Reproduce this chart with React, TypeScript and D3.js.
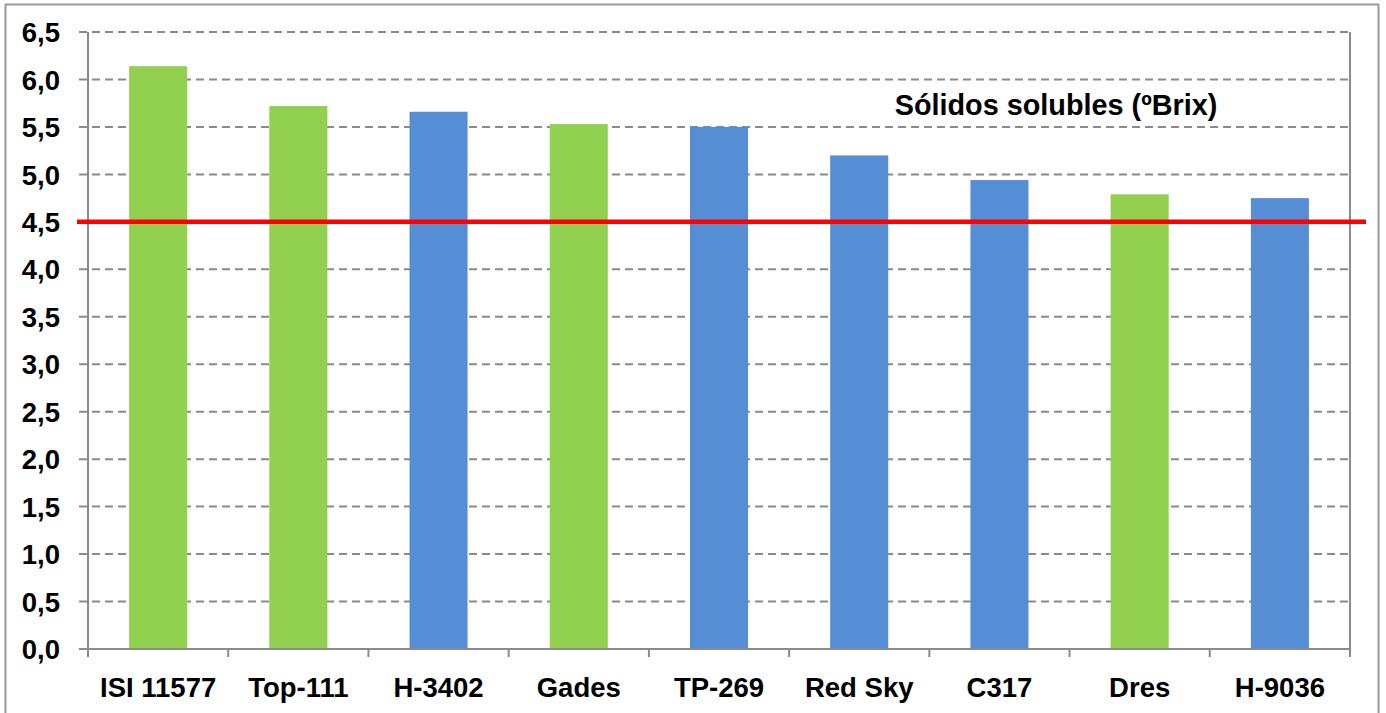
import React from "react";
import * as d3 from "d3";

const categories = ["ISI 11577", "Top-111", "H-3402", "Gades", "TP-269", "Red Sky", "C317", "Dres", "H-9036"];
const values = [6.14, 5.72, 5.66, 5.53, 5.5, 5.2, 4.94, 4.79, 4.75];
const groups = ["g", "g", "b", "g", "b", "b", "b", "g", "b"];
const yTicks = [0, 0.5, 1, 1.5, 2, 2.5, 3, 3.5, 4, 4.5, 5, 5.5, 6, 6.5];
const threshold = 4.5;
const title = "Sólidos solubles (ºBrix)";

const W = 1386;
const H = 713;
const left = 88;
const right = 1350;
const top = 32;
const bottom = 649;
const FONT = "'Liberation Sans', Arial, sans-serif";

export default function App() {
  const x = d3.scaleBand<string>().domain(categories).range([left, right]).paddingInner(0.586).paddingOuter(0.293);
  const y = d3.scaleLinear().domain([0, 6.5]).range([bottom, top]);
  const step = x.step();
  const color = (g: string) => (g === "g" ? "#92D050" : "#558ED5");
  const fmt = (v: number) => v.toFixed(1).replace(".", ",");

  return (
    <svg width={W} height={H} style={{ position: "absolute", left: 0, top: 0, background: "#fff" }}>
      <rect x={5.5} y={4.5} width={1373} height={730} fill="#fff" stroke="#9a9a9a" strokeWidth={2} />
      {yTicks.map((t) => (
        <line
          key={"g" + t}
          x1={left - 9}
          x2={right}
          y1={y(t)}
          y2={y(t)}
          stroke="#8a8a8a"
          strokeWidth={2}
          strokeDasharray={t === 0 ? undefined : "8,5"}
        />
      ))}
      {categories.map((c, i) => (
        <rect
          key={c}
          x={x(c)}
          y={y(values[i])}
          width={x.bandwidth()}
          height={y(0) - y(values[i])}
          fill={color(groups[i])}
        />
      ))}
      <line x1={left} x2={left} y1={top} y2={bottom + 8} stroke="#8a8a8a" strokeWidth={2} />
      <line x1={right} x2={right} y1={top} y2={bottom + 8} stroke="#8a8a8a" strokeWidth={2} />
      <line x1={left - 9} x2={right} y1={bottom} y2={bottom} stroke="#8a8a8a" strokeWidth={2} />
      {categories.map((c, i) => (
        <line
          key={"t" + c}
          x1={left + step * i}
          x2={left + step * i}
          y1={bottom}
          y2={bottom + 8}
          stroke="#8a8a8a"
          strokeWidth={2}
        />
      ))}
      <line x1={77} x2={1366} y1={y(threshold)} y2={y(threshold)} stroke="#FF0000" strokeWidth={4.5} />
      {yTicks.map((t) => (
        <text
          key={"l" + t}
          x={60}
          y={y(t)}
          dy="0.37em"
          textAnchor="end"
          fontFamily={FONT}
          fontWeight="bold"
          fontSize={27.5}
          fill="#000"
        >
          {fmt(t)}
        </text>
      ))}
      {categories.map((c) => (
        <text
          key={"x" + c}
          x={(x(c) as number) + x.bandwidth() / 2}
          y={697}
          textAnchor="middle"
          fontFamily={FONT}
          fontWeight="bold"
          fontSize={27.5}
          fill="#000"
        >
          {c}
        </text>
      ))}
      <text x={1056} y={115} textAnchor="middle" fontFamily={FONT} fontWeight="bold" fontSize={28.8} fill="#000">
        {title}
      </text>
    </svg>
  );
}
